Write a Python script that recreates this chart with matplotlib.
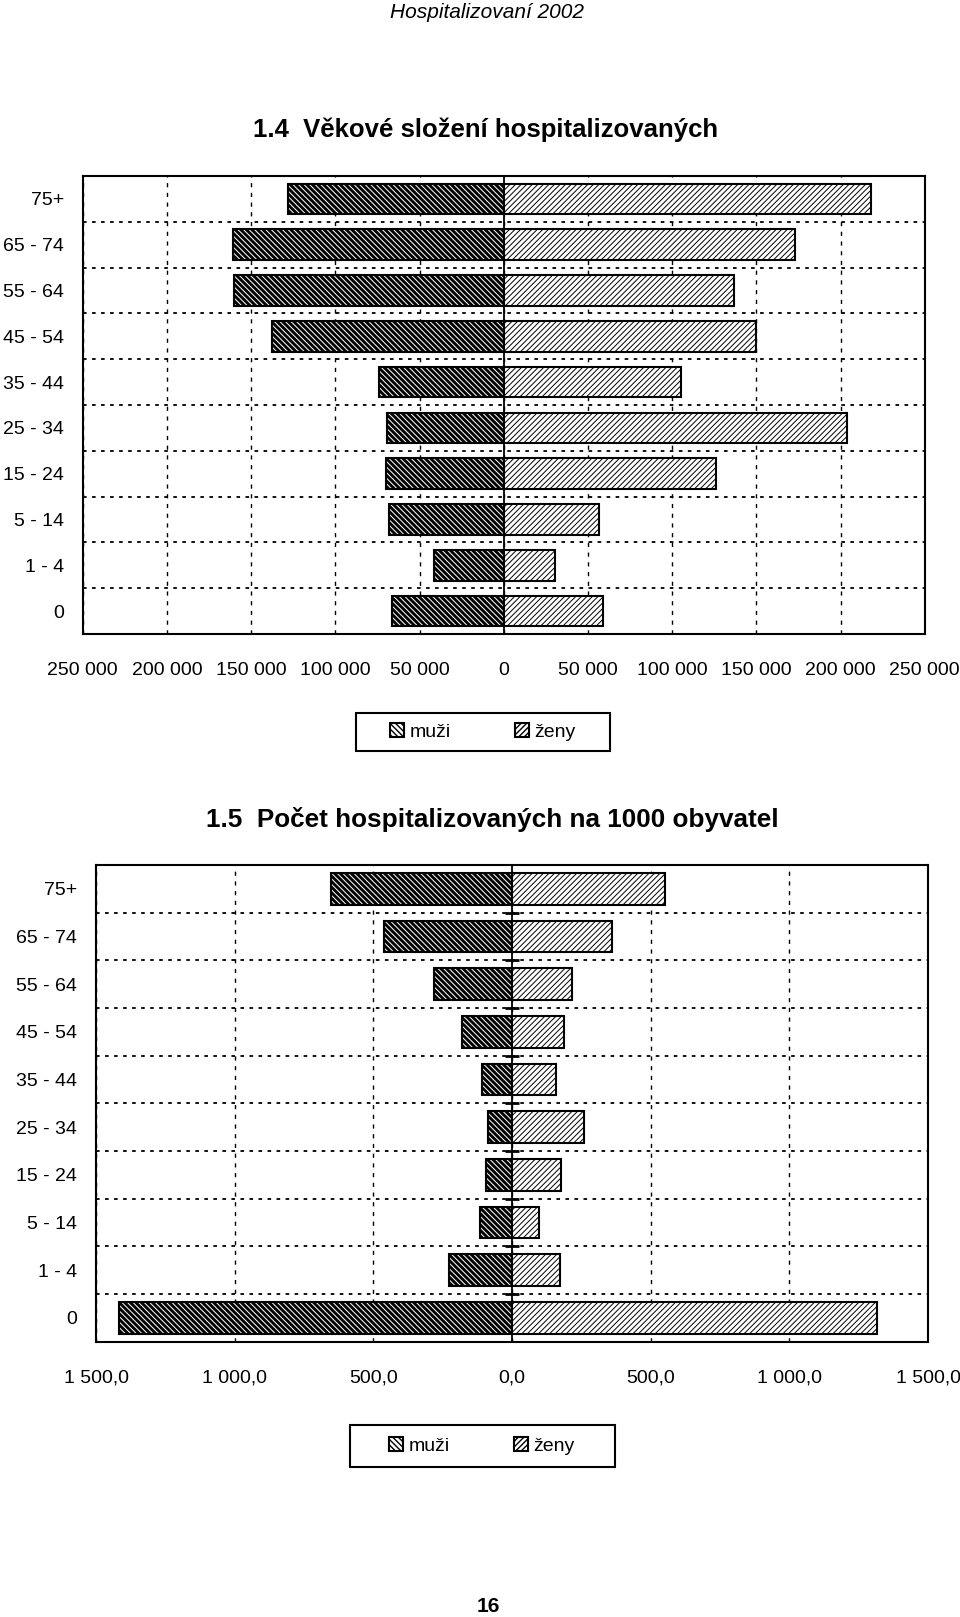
import numpy as np
import matplotlib
matplotlib.use("Agg")
import matplotlib.pyplot as plt
from matplotlib.patches import Rectangle
from matplotlib.ticker import FuncFormatter

plt.rcParams["font.family"] = ["Liberation Sans", "DejaVu Sans"]

# Age groups, listed bottom -> top as they appear on the chart
age_groups = ["0", "1 - 4", "5 - 14", "15 - 24", "25 - 34",
              "35 - 44", "45 - 54", "55 - 64", "65 - 74", "75+"]

# 1.4 number of hospitalised persons
count_men = [66600, 41500, 68000, 69900, 69500, 73900, 137600, 160100, 160500, 128100]
count_women = [59000, 30600, 56800, 126300, 204100, 105500, 149900, 136500, 172900, 218000]
count_ticks = [-250000, -200000, -150000, -100000, -50000, 0,
               50000, 100000, 150000, 200000, 250000]

# 1.5 hospitalised per 1000 inhabitants
rate_men = [1416, 228, 117, 95, 86, 108, 179, 283, 460, 652]
rate_women = [1317, 172, 99, 175, 258, 159, 188, 217, 362, 550]
rate_ticks = [-1500, -1000, -500, 0, 500, 1000, 1500]

legend_labels = ["muži", "ženy"]

W, H = 960, 1617
fig = plt.figure(figsize=(W / 100, H / 100), dpi=100)


def fig_box(x0, y0, x1, y1):
    # pixel box (top-left origin) -> figure fraction rect
    return [x0 / W, 1 - y1 / H, (x1 - x0) / W, (y1 - y0) / H]


def pyramid(ax, men, women, ticks, fmt, zero_marks=False):
    y = np.arange(len(age_groups))
    with plt.rc_context({"hatch.linewidth": 2.1}):
        bars_m = ax.barh(y, -np.asarray(men), height=0.67, left=0, color="white",
                         edgecolor="black", linewidth=1.5, hatch="\\" * 6, zorder=3)
    with plt.rc_context({"hatch.linewidth": 0.7}):
        bars_w = ax.barh(y, women, height=0.67, left=0, color="white",
                         edgecolor="black", linewidth=1.5, hatch="/" * 6, zorder=3)
    for b in bars_m:
        if hasattr(b, "set_hatch_linewidth"):
            b.set_hatch_linewidth(2.1)
    for b in bars_w:
        if hasattr(b, "set_hatch_linewidth"):
            b.set_hatch_linewidth(0.7)

    ax.set_xlim(ticks[0], ticks[-1])
    ax.set_ylim(-0.5, len(age_groups) - 0.5)
    ax.set_xticks(ticks)
    ax.xaxis.set_major_formatter(FuncFormatter(fmt))
    ax.set_yticks(y)
    ax.set_yticklabels(age_groups)
    ax.set_yticks(y[:-1] + 0.5, minor=True)

    ax.tick_params(axis="x", which="major", length=0, pad=20, labelsize=14)
    ax.tick_params(axis="y", which="both", length=0, pad=13.5, labelsize=14)

    ax.set_axisbelow(True)
    ax.grid(axis="x", which="major", color="black", linewidth=1.0,
            linestyle=(0, (3, 4)))
    ax.grid(axis="y", which="minor", color="black", linewidth=1.3,
            linestyle=(0, (2, 3)))
    ax.axvline(0, color="black", linewidth=1.3, zorder=4)
    if zero_marks:
        ax.plot(np.zeros(len(age_groups) - 1), y[:-1] + 0.5, ls="none",
                marker="_", ms=10, mew=2, color="black", zorder=4)
    for s in ax.spines.values():
        s.set_linewidth(1.5)
        s.set_zorder(5)
    return bars_m, bars_w


def legend_box(handles, cx, cy, box):
    fig.legend(handles, legend_labels, loc="center",
               bbox_to_anchor=(cx / W, 1 - cy / H), ncol=2, frameon=False,
               fontsize=14, handlelength=0.7, handleheight=0.7,
               handletextpad=0.3, columnspacing=3.3)
    r = Rectangle(fig_box(*box)[:2], fig_box(*box)[2], fig_box(*box)[3],
                  transform=fig.transFigure, fill=False, edgecolor="black",
                  linewidth=1.5)
    fig.patches.append(r)


def fmt_count(v, pos):
    return f"{abs(int(round(v))):,}".replace(",", " ")


def fmt_rate(v, pos):
    return f"{abs(v):,.1f}".replace(",", " ").replace(".", ",")


# Page header
fig.text(487 / W, 1 - 18.5 / H, "Hospitalizovaní 2002", ha="center",
         va="baseline", fontsize=15, style="italic")

# Chart 1.4
fig.text(486 / W, 1 - 137 / H, "1.4  Věkové složení hospitalizovaných",
         ha="center", va="baseline", fontsize=18.5, fontweight="bold")
ax1 = fig.add_axes(fig_box(82.7, 176, 924.7, 634))
h1 = pyramid(ax1, count_men, count_women, count_ticks, fmt_count)
legend_box(h1, 483, 732, (356, 713, 610, 751))

# Chart 1.5
fig.text(492 / W, 1 - 827 / H, "1.5  Počet hospitalizovaných na 1000 obyvatel",
         ha="center", va="baseline", fontsize=18.8, fontweight="bold")
ax2 = fig.add_axes(fig_box(96, 865, 928, 1341.7))
h2 = pyramid(ax2, rate_men, rate_women, rate_ticks, fmt_rate, zero_marks=True)
legend_box(h2, 482, 1446, (350, 1425, 615, 1467))

# Page number
fig.text(488 / W, 1 - 1612 / H, "16", ha="center", va="baseline",
         fontsize=15, fontweight="bold")

fig.savefig("out.png", dpi=100)
